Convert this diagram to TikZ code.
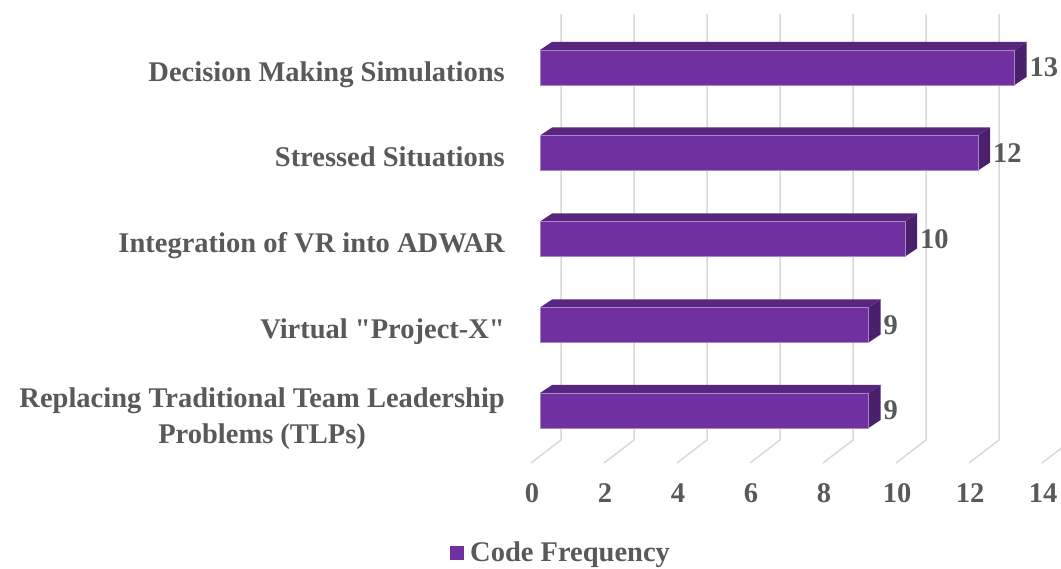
\documentclass[tikz,border=0pt]{standalone}
\usepackage{fontspec}
\setmainfont{Liberation Serif}[Ligatures=TeXOff]
\definecolor{txt}{HTML}{595959}
\definecolor{barfront}{HTML}{7030A0}
\definecolor{bartop}{HTML}{58267F}
\definecolor{barside}{HTML}{4A1F6B}
\definecolor{baredge}{HTML}{A685C9}
\definecolor{gridc}{HTML}{D9D9D9}

% one 3-D bar: #1 value, #2 centre y of the front face, #3 name of its value label
\newcommand\purplebar[3]{%
  \pgfmathsetmacro\xr{540+36.5*#1}%
  \fill[bartop] (540,#2-17.5) -- (552,#2-25.5) -- (\xr+12,#2-25.5) -- (\xr,#2-17.5) -- cycle;
  \fill[barside] (\xr,#2-17.5) -- (\xr+12,#2-25.5) -- (\xr+12,#2+9.5) -- (\xr,#2+17.5) -- cycle;
  \filldraw[fill=barfront, draw=baredge, line width=0.8pt] (540,#2-17.5) rectangle (\xr,#2+17.5);
  \node[lbl, anchor=west] (#3) at (\xr+15,#2) {#1};
}

\begin{document}
\begin{tikzpicture}[x=1pt,y=-1pt,
  lbl/.style={font=\fontsize{28.5}{34}\selectfont\bfseries, text=txt, inner sep=0pt},
  gridline/.style={draw=gridc, line width=1.5pt}]
\useasboundingbox (0,0) rectangle (1061,569);
\clip (0,0) rectangle (1061,569);

% back wall and floor grid with the value axis
\foreach \k in {0,...,7} {
  \pgfmathsetmacro\xb{561+73*\k}
  \draw[gridline] (\xb,14) -- (\xb,440) -- (\xb-30,463);
  \pgfmathtruncatemacro\tv{2*\k}
  \node[lbl] (tick\k) at (\xb-29,493) {\tv};
}

% bars
\purplebar{13}{67.5}{val1}
\purplebar{12}{153}{val2}
\purplebar{10}{239}{val3}
\purplebar{9}{325}{val4}
\purplebar{9}{410.5}{val5}

% category labels
\node[lbl, anchor=base east] (cat1) at (505,81.5) {Decision Making Simulations};
\node[lbl, anchor=base east] (cat2) at (505,167) {Stressed Situations};
\node[lbl, anchor=base east] (cat3) at (505,253) {Integration of VR into ADWAR};
\node[lbl, anchor=base east] (cat4) at (505,339) {Virtual "Project-X"};
\node[lbl, anchor=base east] (cat5a) at (505,408) {Replacing Traditional Team Leadership};
\path (cat5a.base) ++(0,35) node[lbl, anchor=base] (cat5b) {Problems (TLPs)};

% legend
\node[fill=barfront, minimum size=14pt, inner sep=0pt] (legkey) at (457,553) {};
\node[lbl, anchor=base west] (legtext) at (470,561) {Code Frequency};
\end{tikzpicture}
\end{document}
